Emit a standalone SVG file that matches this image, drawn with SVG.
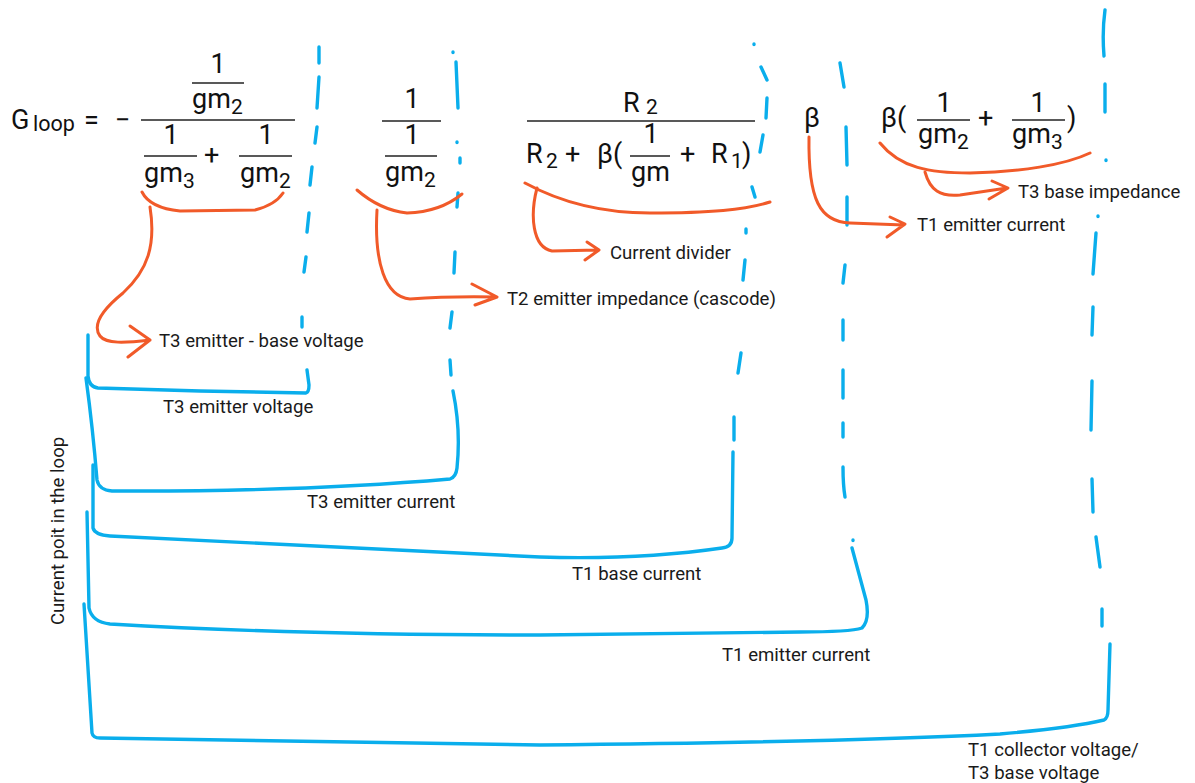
<svg xmlns="http://www.w3.org/2000/svg" width="1195" height="783" viewBox="0 0 1195 783">
<style>
.f{font-family:Roboto,"Liberation Sans",sans-serif;font-size:27px;fill:#111}
.s{font-family:Roboto,"Liberation Sans",sans-serif;font-size:21px;fill:#111}
.l{font-family:Roboto,"Liberation Sans",sans-serif;font-size:18.6px;fill:#1a1a1a}
.bar{stroke:#222;stroke-width:1.3;fill:none}
.b{stroke:#0aaeec;stroke-width:3.4;fill:none;stroke-linecap:round;stroke-linejoin:round}
.o{stroke:#f15a29;stroke-width:3;fill:none;stroke-linecap:round;stroke-linejoin:round}
</style>
<rect width="1195" height="783" fill="#fff"/>

<g id="term-gloop">
<text class="f" x="11" y="129">G</text>
<text class="s" x="33" y="131" style="font-size:21.5px">loop</text>
<text class="f" x="84" y="129">=</text>
<text class="f" x="115" y="129">−</text>
<text class="f" x="218" y="73" text-anchor="middle">1</text>
<line class="bar" x1="192" y1="83" x2="244" y2="83"/>
<text class="f" x="192" y="108">gm</text><text class="s" x="231" y="114">2</text>
<line class="bar" x1="141" y1="120" x2="295" y2="120"/>
<text class="f" x="171" y="144" text-anchor="middle">1</text>
<line class="bar" x1="144" y1="156" x2="197" y2="156"/>
<text class="f" x="144" y="182">gm</text><text class="s" x="183" y="188">3</text>
<text class="f" x="204" y="164">+</text>
<text class="f" x="266" y="144" text-anchor="middle">1</text>
<line class="bar" x1="239" y1="156" x2="292" y2="156"/>
<text class="f" x="240" y="182">gm</text><text class="s" x="279" y="188">2</text>
</g>

<g id="term-cascode">
<text class="f" x="412" y="108" text-anchor="middle">1</text>
<line class="bar" x1="382" y1="121" x2="441" y2="121"/>
<text class="f" x="412" y="144" text-anchor="middle">1</text>
<line class="bar" x1="385" y1="156" x2="437" y2="156"/>
<text class="f" x="385" y="181">gm</text><text class="s" x="424" y="187">2</text>
</g>

<g id="term-divider">
<text class="f" x="623" y="112">R</text><text class="s" x="646" y="114">2</text>
<line class="bar" x1="527" y1="121" x2="755" y2="121"/>
<text class="f" x="526" y="163">R</text><text class="s" x="546" y="168">2</text>
<text class="f" x="565" y="163">+</text>
<text class="f" x="597" y="163">β(</text>
<text class="f" x="651" y="143" text-anchor="middle">1</text>
<line class="bar" x1="630" y1="156" x2="670" y2="156"/>
<text class="f" x="631" y="181">gm</text>
<text class="f" x="680" y="163">+</text>
<text class="f" x="711" y="163">R</text><text class="s" x="731" y="168">1</text>
<text class="f" x="742" y="163">)</text>
</g>

<g id="term-beta">
<text class="f" x="804" y="127">β</text>
</g>

<g id="term-base-impedance">
<text class="f" x="881" y="127">β(</text>
<text class="f" x="944" y="112" text-anchor="middle">1</text>
<line class="bar" x1="917" y1="120" x2="970" y2="120"/>
<text class="f" x="918" y="143">gm</text><text class="s" x="957" y="149">2</text>
<text class="f" x="978" y="127">+</text>
<text class="f" x="1038" y="112" text-anchor="middle">1</text>
<line class="bar" x1="1012" y1="120" x2="1065" y2="120"/>
<text class="f" x="1012" y="143">gm</text><text class="s" x="1051" y="149">3</text>
<text class="f" x="1067" y="127">)</text>
</g>

<g id="labels">
<text class="l" x="159" y="347">T3 emitter - base voltage</text>
<text class="l" x="507" y="305">T2 emitter impedance (cascode)</text>
<text class="l" x="610" y="259">Current divider</text>
<text class="l" x="917" y="231">T1 emitter current</text>
<text class="l" x="1018" y="198">T3 base impedance</text>
<text class="l" x="163" y="413">T3 emitter voltage</text>
<text class="l" x="307" y="508">T3 emitter current</text>
<text class="l" x="572" y="580">T1 base current</text>
<text class="l" x="722" y="661">T1 emitter current</text>
<text class="l" x="968" y="756">T1 collector voltage/</text>
<text class="l" x="968" y="779">T3 base voltage</text>
<text class="l" transform="translate(64,625) rotate(-90)">Current poit in the loop</text>
</g>

<g id="connectors">
<g id="dividers">
<path class="b" d="M319,47 L319,63 M319,77 L317,108 M317,127 L315,143 M312,167 L310,185 M309,213 L307,232 M306,257 L304,272 M302,317 L302,327"/>
<path class="b" d="M453,52 L453,52.5 M456,62 L458,108 M457,142 L457,142.5 M460,158 L460,163 M458,193 L457,207 M455,252 L454,273 M452,312 L450,328 M450,360 L451,375"/>
<path class="b" d="M754,44 L754,44.5 M761,67 L767,80 M767,98 L766,118 M763,135 L760,152 M752,187 L755,197 M746,229 L746,233 M745,260 L743,280 M741,353 L738,373 M734,417 L734,440"/>
<path class="b" d="M840,63 L844,87 M846,127 L847,165 M847,197 L847,225 M845,265 L843,283 M843,320 L843,340 M843,370 L843,398 M843,423 L843,437 M843,467 Q843,485 845,497 M853,540 L853,540.5"/>
<path class="b" d="M1105,10 Q1102,32 1104,56 M1105,84 L1105,112 M1106,160 L1106,160.5 M1098,216 L1098,216.5 M1096,233 L1093,274 M1093,307 L1092,335 M1092,381 L1091,430 M1092,479 L1093,512 M1096,537 L1100,567 M1102,609 L1102,626"/>
</g>
<g id="brackets">
<path class="b" d="M88,335 L88,376 Q89,387 98,388 L200,391 L306,393 Q309,392 309,385 L307,370"/>
<path class="b" d="M86,378 Q93,430 97,480 Q99,490 112,491 Q300,492 450,479 Q456,477 457,468 Q461,430 453,391"/>
<path class="b" d="M93,465 L93,528 Q95,535 110,536 Q300,545 540,557 Q640,560 722,548 Q732,547 732,538 L733,452"/>
<path class="b" d="M87,512 L89,608 Q92,622 110,624 Q300,635 540,635 L800,632 Q850,632 862,628 Q870,620 866,600 L852,548"/>
<path class="b" d="M84,604 L92,733 Q93,738 100,738 L540,745 Q850,742 1000,734 Q1070,728 1104,720 Q1108,718 1108,710 L1110,644"/>
</g>
<g id="annotations">
<path class="o" d="M142,192 Q150,208 180,211 L255,210 Q275,205 283,193"/>
<path class="o" d="M150,207 C156,245 148,270 123,293 C102,310 92,325 100,336 C106,344 125,343 150,340 M130,326 L150,340 L128,357"/>
<path class="o" d="M357,190 Q380,210 407,213 Q440,212 462,194"/>
<path class="o" d="M377,210 C374,262 385,297 410,299 Q450,296 497,297 M472,284 L497,297 L475,305"/>
<path class="o" d="M525,183 C560,202 600,213 650,213 C710,213 745,210 770,202"/>
<path class="o" d="M537,188 C530,215 532,247 552,251 L598,250 M587,242 L599,250 L585,260"/>
<path class="o" d="M809,137 C808,200 820,222 850,223 L904,225 M890,217 L905,224 L887,237"/>
<path class="o" d="M880,143 C900,168 930,173 970,173 C1020,172 1065,165 1090,153"/>
<path class="o" d="M925,172 C930,190 940,197 960,195 L1007,188 M992,181 L1008,188 L989,199"/>
</g>
</g>
</svg>
